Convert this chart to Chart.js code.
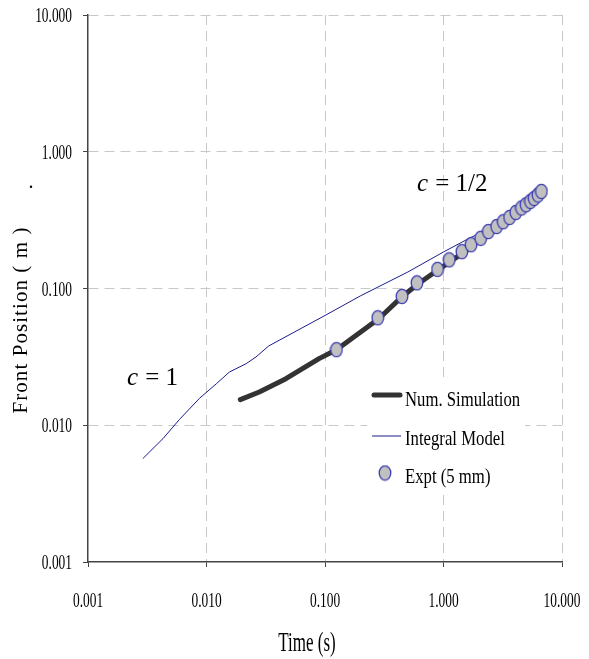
<!DOCTYPE html>
<html>
<head>
<meta charset="utf-8">
<title>Front position vs time</title>
<script src="https://cdn.jsdelivr.net/npm/chart.js@4"></script>
<style>
  html, body { margin: 0; padding: 0; background: #fff; }
  canvas { display: block; }
</style>
</head>
<body>
<canvas id="chart" width="589" height="659"></canvas>
<script>
// decade ticks shared by both log axes
const decades = [0.001, 0.01, 0.1, 1, 10]

// Num. Simulation
const simTime = [0.0193, 0.0279, 0.0468, 0.0891, 0.125, 0.20, 0.284, 0.45, 0.60, 0.89, 1.43, 2.4, 4.0, 6.7]
const simPos = [0.0154, 0.0175, 0.0219, 0.0307, 0.0357, 0.048, 0.0601, 0.0875, 0.107, 0.136, 0.18, 0.255, 0.35, 0.50]

// Integral Model
const modelTime = [0.0029, 0.0043, 0.0059, 0.0087, 0.0121, 0.0156, 0.0216, 0.0262, 0.0335, 0.1, 0.2, 0.5, 1.0, 1.62, 3.0, 6.7]
const modelPos = [0.0057, 0.0080, 0.0110, 0.0157, 0.0201, 0.0245, 0.0282, 0.0316, 0.038, 0.0635, 0.0885, 0.132, 0.185, 0.231, 0.30, 0.47]

// Expt (5 mm)
const exptTime = [0.125, 0.279, 0.447, 0.597, 0.891, 1.117, 1.43, 1.71, 2.06, 2.39, 2.81, 3.19, 3.61, 4.08, 4.55, 4.98, 5.42, 5.82, 6.28, 6.70]
const exptPos = [0.0357, 0.0611, 0.0875, 0.110, 0.138, 0.162, 0.186, 0.209, 0.233, 0.261, 0.284, 0.308, 0.331, 0.360, 0.388, 0.410, 0.434, 0.456, 0.483, 0.513]

const serif = '"Liberation Serif", "Times New Roman", serif'
const markerFill = '#c0c0c0'
const markerEdge = '#3b3bb0'

const toPoints = (xs, ys) => xs.map((x, i) => ({ x, y: ys[i] }))

// slightly tall elliptical marker
function makeMarker () {
  const c = document.createElement('canvas')
  c.width = 14
  c.height = 17
  const g = c.getContext('2d')
  g.beginPath()
  g.ellipse(7, 8.5, 5.8, 7.2, 0, 0, Math.PI * 2)
  g.fillStyle = markerFill
  g.fill()
  g.lineWidth = 1.3
  g.strokeStyle = markerEdge
  g.stroke()
  return c
}
const marker = makeMarker()

function text (ctx, str, x, y, size, sx, align, style) {
  ctx.save()
  ctx.translate(x, y)
  ctx.scale(sx, 1)
  ctx.font = (style || '') + ' ' + size + 'px ' + serif
  ctx.textAlign = align || 'left'
  ctx.textBaseline = 'alphabetic'
  ctx.fillStyle = '#000'
  ctx.fillText(str, 0, 0)
  ctx.restore()
}

const decorations = {
  id: 'decorations',
  afterDraw (chart) {
    const ctx = chart.ctx
    const xs = chart.scales.x
    const ys = chart.scales.y

    // tick labels
    ys.ticks.forEach(t => {
      text(ctx, t.value.toFixed(3), 72, ys.getPixelForValue(t.value) + 7, 20, 0.67, 'right')
    })
    xs.ticks.forEach(t => {
      text(ctx, t.value.toFixed(3), xs.getPixelForValue(t.value), 607, 20, 0.67, 'center')
    })

    // axis titles
    text(ctx, 'Time (s)', 307, 651, 27, 0.63, 'center')

    ctx.save()
    ctx.font = '21px ' + serif
    const yTitle = 'Front Position ( m )'
    const w = ctx.measureText(yTitle).width
    ctx.letterSpacing = ((186 - w) / (yTitle.length - 1)).toFixed(2) + 'px'
    ctx.translate(27, 320)
    ctx.rotate(-Math.PI / 2)
    ctx.textAlign = 'center'
    ctx.fillStyle = '#000'
    ctx.fillText(yTitle, 0, 0)
    ctx.restore()
    text(ctx, '.', 31, 188, 20, 1, 'center')

    // slope annotations
    text(ctx, 'c', 127, 385, 25, 1, 'left', 'italic')
    text(ctx, ' = 1', 139, 385, 25, 1, 'left')
    text(ctx, 'c', 417, 191, 25, 1, 'left', 'italic')
    text(ctx, ' = 1/2', 429, 191, 25, 1, 'left')

    // legend
    const [sim, model] = chart.data.datasets
    ctx.save()
    ctx.fillStyle = '#fff'
    ctx.fillRect(367, 377, 158, 116)
    ctx.lineCap = 'round'
    ctx.strokeStyle = sim.borderColor
    ctx.lineWidth = sim.borderWidth
    ctx.beginPath()
    ctx.moveTo(374, 395)
    ctx.lineTo(400, 395)
    ctx.stroke()
    ctx.lineCap = 'butt'
    ctx.strokeStyle = model.borderColor
    ctx.lineWidth = model.borderWidth
    ctx.beginPath()
    ctx.moveTo(372, 436)
    ctx.lineTo(401, 436)
    ctx.stroke()
    ctx.drawImage(marker, 385 - 7, 473 - 8.5)
    ctx.restore()
    chart.data.datasets.forEach((ds, i) => {
      text(ctx, ds.label, 405, [406, 445, 483][i], 22, 0.76, 'left')
    })
  }
}

const gridColor = c => (c.tick && c.tick.value === 0.001) ? 'rgba(0,0,0,0)' : '#c8c8c8'

function logAxis (pos) {
  return {
    type: 'logarithmic',
    position: pos,
    min: 0.001,
    max: 10,
    afterBuildTicks: s => { s.ticks = decades.map(v => ({ value: v })) },
    afterFit: s => {
      if (pos === 'left') s.width = 88
      else s.height = 97
    },
    ticks: { display: false },
    grid: { color: gridColor, lineWidth: 1, tickLength: 5, tickColor: '#444', tickWidth: 1 },
    border: { color: '#444', width: 1.5, dash: [10, 6] }
  }
}

new Chart(document.getElementById('chart'), {
  type: 'scatter',
  data: {
    datasets: [{
      label: 'Num. Simulation',
      data: toPoints(simTime, simPos),
      showLine: true,
      borderColor: '#333333',
      borderWidth: 5,
      borderCapStyle: 'round',
      borderJoinStyle: 'round',
      pointRadius: 0,
      order: 2
    }, {
      label: 'Integral Model',
      data: toPoints(modelTime, modelPos),
      showLine: true,
      borderColor: '#1c1c8c',
      borderWidth: 1,
      pointRadius: 0,
      order: 3
    }, {
      label: 'Expt (5 mm)',
      data: toPoints(exptTime, exptPos),
      showLine: false,
      pointStyle: marker,
      backgroundColor: markerFill,
      borderColor: markerEdge,
      order: 1
    }]
  },
  options: {
    responsive: false,
    animation: false,
    devicePixelRatio: 1,
    layout: { padding: { top: 15, right: 27, left: 0, bottom: 0 } },
    plugins: {
      legend: { display: false },
      tooltip: { enabled: false }
    },
    scales: {
      x: logAxis('bottom'),
      y: logAxis('left')
    }
  },
  plugins: [decorations]
})
</script>
</body>
</html>
